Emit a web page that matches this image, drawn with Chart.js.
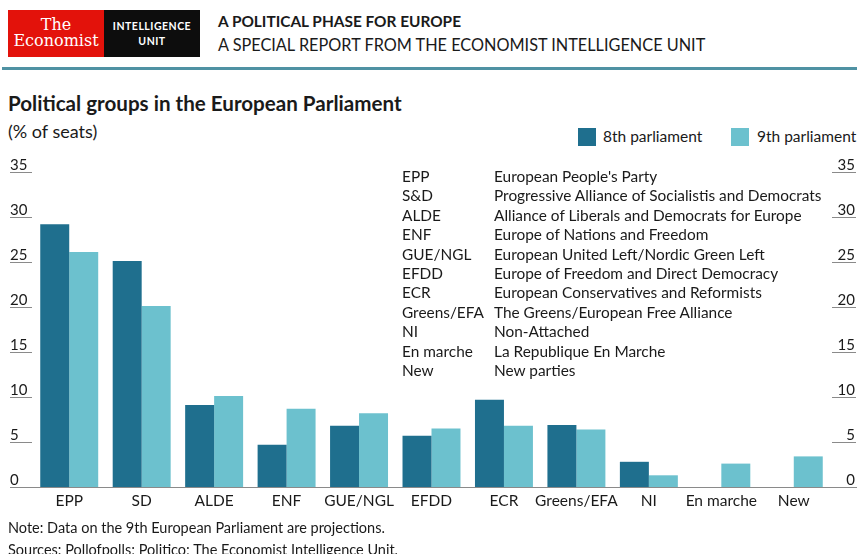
<!DOCTYPE html>
<html>
<head>
<meta charset="utf-8">
<script src="https://cdn.jsdelivr.net/npm/chart.js@4"></script>
<style>
  html, body { margin: 0; padding: 0; background: #fff; }
  body { width: 857px; height: 554px; position: relative; overflow: hidden; font-family: Lato, "Open Sans", sans-serif; color: #1a1a1a; }
  .abs { position: absolute; white-space: nowrap; }
  #chart { position: absolute; left: 0; top: 0; }
  .logo-red { left: 8px; top: 10px; width: 96px; height: 47px; background: #e3120b; color: #fff; font-family: "DejaVu Serif", serif; font-size: 16px; line-height: 16px; text-align: center; }
  .logo-black { left: 104px; top: 10px; width: 96px; height: 47px; background: #0d0d0d; color: #fff; font-size: 10.5px; letter-spacing: 0.5px; line-height: 15px; text-align: center; font-weight: bold; }
  .rule { left: 2px; top: 67px; width: 855px; height: 3px; background: #4f92a3; }
  .legend-box { width: 18px; height: 18px; }
  .tbl { font-size: 15.4px; line-height: 19.4px; }
</style>
</head>
<body>
<div class="abs logo-red"><div style="padding-top:7px">The<br>Economist</div></div>
<div class="abs logo-black"><div style="padding-top:9px">INTELLIGENCE<br>UNIT</div></div>
<div class="abs" style="left:218px; top:12px; font-size:15.4px; font-weight:bold;">A POLITICAL PHASE FOR EUROPE</div>
<div class="abs" style="left:218px; top:35px; font-size:16.3px;">A SPECIAL REPORT FROM THE ECONOMIST INTELLIGENCE UNIT</div>
<div class="abs rule"></div>

<div class="abs" style="left:8px; top:91px; font-size:20.6px; font-weight:bold;">Political groups in the European Parliament</div>
<div class="abs" style="left:8px; top:120px; font-size:18px;">(% of seats)</div>

<div class="abs legend-box" style="left:578px; top:128px; background:#1f6f8e;"></div>
<div class="abs" style="left:603px; top:127px; font-size:15.5px;">8th parliament</div>
<div class="abs legend-box" style="left:731px; top:128px; background:#6cc1ce;"></div>
<div class="abs" style="left:757px; top:127px; font-size:15.5px;">9th parliament</div>

<canvas id="chart" width="857" height="554"></canvas>

<div class="abs tbl" id="abbr" style="left:402px; top:167px;"></div>
<div class="abs tbl" id="desc" style="left:494px; top:167px;"></div>

<div class="abs" style="left:8px; top:519px; font-size:14.5px;">Note: Data on the 9th European Parliament are projections.</div>
<div class="abs" style="left:8px; top:541px; font-size:14.5px;">Sources: Pollofpolls; Politico; The Economist Intelligence Unit.</div>

<script>
const categories = ['EPP', 'SD', 'ALDE', 'ENF', 'GUE/NGL', 'EFDD', 'ECR', 'Greens/EFA', 'NI', 'En marche', 'New'];
const parliament8 = [29.2, 25.1, 9.1, 4.7, 6.8, 5.7, 9.7, 6.9, 2.8, 0, 0];
const parliament9 = [26.1, 20.1, 10.1, 8.7, 8.2, 6.5, 6.8, 6.4, 1.3, 2.6, 3.4];
const yTicks = [0, 5, 10, 15, 20, 25, 30, 35];

const glossaryAbbr = ['EPP', 'S&D', 'ALDE', 'ENF', 'GUE/NGL', 'EFDD', 'ECR', 'Greens/EFA', 'NI', 'En marche', 'New'];
const glossaryDesc = [
    "European People's Party",
    'Progressive Alliance of Socialistis and Democrats',
    'Alliance of Liberals and Democrats for Europe',
    'Europe of Nations and Freedom',
    'European United Left/Nordic Green Left',
    'Europe of Freedom and Direct Democracy',
    'European Conservatives and Reformists',
    'The Greens/European Free Alliance',
    'Non-Attached',
    'La Republique En Marche',
    'New parties'
];

document.getElementById('abbr').innerHTML = glossaryAbbr.map(a => a.replace('&', '&amp;')).join('<br>');
document.getElementById('desc').innerHTML = glossaryDesc.join('<br>');

const FONT = 'Lato, "Open Sans", sans-serif';

// y tick labels sit on top of short rules on both sides; category labels under the baseline
const axisDecor = {
    id: 'axisDecor',
    afterDraw(chart) {
        const ctx = chart.ctx;
        const y = chart.scales.y;
        const x = chart.scales.x;
        ctx.save();
        ctx.strokeStyle = '#8a8a8a';
        ctx.lineWidth = 1.2;
        ctx.fillStyle = '#1a1a1a';
        ctx.font = '15px ' + FONT;
        ctx.textBaseline = 'alphabetic';
        yTicks.forEach(v => {
            const py = Math.round(y.getPixelForValue(v)) + 0.5;
            ctx.beginPath();
            if (v === 0) {
                ctx.moveTo(10, py);
                ctx.lineTo(857, py);
            } else {
                ctx.moveTo(10, py);
                ctx.lineTo(32, py);
                ctx.moveTo(832, py);
                ctx.lineTo(856, py);
            }
            ctx.stroke();
            ctx.textAlign = 'left';
            ctx.fillText(String(v), 10, py - 3);
            ctx.textAlign = 'right';
            ctx.fillText(String(v), 855, py - 3);
        });
        ctx.font = '15.5px ' + FONT;
        ctx.textAlign = 'center';
        ctx.textBaseline = 'middle';
        const base = y.getPixelForValue(0);
        categories.forEach((c, i) => {
            ctx.fillText(c, x.getPixelForValue(i), base + 14);
        });
        ctx.restore();
    }
};

new Chart(document.getElementById('chart').getContext('2d'), {
    type: 'bar',
    data: {
        labels: categories,
        datasets: [
            { label: '8th parliament', data: parliament8, backgroundColor: '#1f6f8e', barPercentage: 1, categoryPercentage: 0.8 },
            { label: '9th parliament', data: parliament9, backgroundColor: '#6cc1ce', barPercentage: 1, categoryPercentage: 0.8 }
        ]
    },
    options: {
        responsive: false,
        animation: false,
        layout: { padding: { left: 33, right: 27, top: 172, bottom: 67 } },
        plugins: {
            legend: { display: false },
            tooltip: { enabled: false }
        },
        scales: {
            x: { display: false },
            y: { display: false, min: 0, max: 35 }
        }
    },
    plugins: [axisDecor]
});
</script>
</body>
</html>
